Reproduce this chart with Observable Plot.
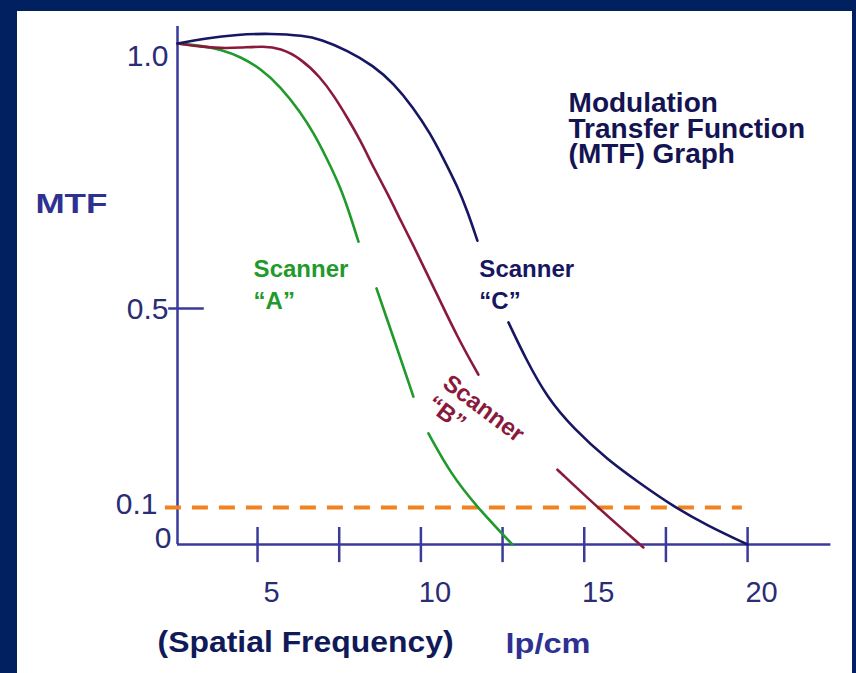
<!DOCTYPE html>
<html><head><meta charset="utf-8">
<script src="https://cdn.jsdelivr.net/npm/d3@7"></script>
<script src="https://cdn.jsdelivr.net/npm/@observablehq/plot@0.6"></script>
<style>
html,body{margin:0;padding:0;background:#002060;}
#wrap{position:relative;width:856px;height:673px;background:#002060;overflow:hidden;}
#panel{position:absolute;left:17px;top:11px;width:835px;height:662px;background:#ffffff;}
#chart{position:absolute;left:0;top:0;}
</style></head><body>
<div id="wrap"><div id="panel"></div><div id="chart"></div></div>
<script>
// Spatial frequency (lp/cm) and MTF values; null marks a break in the drawn line
const freqA = [2.55, 3.25, 3.87, 4.48, 5.09, 5.70, 6.32, 6.71, 7.14, 7.54, 7.82, 8.09, null, 8.64, 9.22, 9.77, null, 10.23, 10.91, 11.73, 12.80];
const mtfA  = [1.0, 0.996, 0.989, 0.975, 0.953, 0.919, 0.870, 0.832, 0.781, 0.728, 0.679, 0.626, null, 0.538, 0.430, 0.323, null, 0.249, 0.168, 0.100, 0.0];
const freqB = [2.55, 3.25, 3.87, 4.48, 5.18, 5.70, 6.32, 6.93, 7.33, 7.75, 8.15, 8.55, 8.98, 9.38, 9.74, 10.39, 11.12, 11.76, null, 14.18, 15.41, 16.81];
const mtfB  = [1.0, 0.994, 0.991, 0.992, 0.995, 0.991, 0.972, 0.936, 0.902, 0.860, 0.817, 0.766, 0.717, 0.666, 0.623, 0.540, 0.442, 0.367, null, 0.176, 0.100, -0.008];
const freqC = [2.55, 3.35, 4.39, 5.40, 6.41, 6.93, 7.75, 8.55, 9.16, 9.77, 10.29, 10.69, 11.12, 11.43, 11.73, null, 12.68, 13.20, 13.88, 14.67, 15.71, 16.72, 17.73, 18.77, 20.00];
const mtfC  = [1.0, 1.009, 1.017, 1.019, 1.015, 1.008, 0.987, 0.958, 0.925, 0.879, 0.830, 0.783, 0.730, 0.683, 0.628, null, 0.472, 0.400, 0.319, 0.259, 0.196, 0.148, 0.102, 0.051, 0.0];

const xTicks = [5, 7.5, 10, 12.5, 15, 17.5, 20];
const xTickLabels = [5, 10, 15, 20];
const yTickValues = [1.0, 0.5, 0.1, 0];
const yTickLabels = ["1.0", "0.5", "0.1", "0"];
const thresholdMTF = 0.1;

const titleText = "Modulation\nTransfer Function\n(MTF) Graph";
const yTitle = "MTF";
const xTitle = "(Spatial Frequency)";
const xUnit = "lp/cm";
const labelA = "Scanner\n\u201CA\u201D";
const labelB1 = "Scanner";
const labelB2 = "\u201CB\u201D";
const labelC = "Scanner\n\u201CC\u201D";

// styles
const FONT = "'Liberation Sans', Arial, Helvetica, sans-serif";
const axisColor = "#3a3a9c";
const numColor = "#2a2c74";
const colA = "#1f9a2b", colB = "#8a1a3c", colC = "#161662";

// The reference MTF axis is drawn non-uniformly (0-0.1 compressed); this warp reproduces it.
const warpY = d3.scaleLinear().domain([0, 0.1, 0.5, 1]).range([0, 37, 236, 501]);
const wy = v => (v == null ? NaN : warpY(v));

const toRows = (xs, ys) => xs.map((x, i) => ({x: x == null ? NaN : x, y: ys[i]}));
const rowsA = toRows(freqA, mtfA), rowsB = toRows(freqB, mtfB), rowsC = toRows(freqC, mtfC);

const yLabelOffsets = [[-9, 22], [-9, 10], [-20, 6], [-6, 3]];

const marks = [
  // axes
  Plot.ruleX([2.55], {y1: wy(0), y2: wy(1.032), stroke: axisColor, strokeWidth: 2.5}),
  Plot.ruleY([wy(0)], {x1: 2.55, x2: 22.55, stroke: axisColor, strokeWidth: 2.5}),
  Plot.ruleX(xTicks, {y1: wy(-0.049), y2: wy(0.046), stroke: axisColor, strokeWidth: 2.5}),
  Plot.ruleY([wy(0.5)], {x1: 2.28, x2: 3.37, stroke: axisColor, strokeWidth: 2.5}),
  // threshold
  Plot.ruleY([wy(thresholdMTF)], {x1: 2.18, x2: 19.84, stroke: "#f0831f", strokeWidth: 4, strokeDasharray: "16,11"}),
  // curves
  Plot.line(rowsA, {x: "x", y: d => wy(d.y), stroke: colA, strokeWidth: 2.6, curve: "basis"}),
  Plot.line(rowsB, {x: "x", y: d => wy(d.y), stroke: colB, strokeWidth: 2.6, curve: "basis"}),
  Plot.line(rowsC, {x: "x", y: d => wy(d.y), stroke: colC, strokeWidth: 2.6, curve: "basis"}),
  // x tick labels
  Plot.text(xTickLabels, {x: d => d, y: wy(0), text: d => String(d), dx: 14, dy: 57, lineAnchor: "bottom",
    fontSize: 29, fill: numColor, fontFamily: FONT}),
  // y tick labels
  ...yTickValues.map((v, i) => Plot.text([v], {x: 2.55, y: d => wy(d), text: () => yTickLabels[i],
    dx: yLabelOffsets[i][0], dy: yLabelOffsets[i][1], textAnchor: "end", lineAnchor: "bottom",
    fontSize: 30, fill: numColor, fontFamily: FONT})),
  // titles
  Plot.text([yTitle], {x: -1.80, y: wy(0.681), text: d => d, textAnchor: "start", lineAnchor: "bottom",
    fontSize: 28, fontWeight: "bold", fill: "#2e3192", fontFamily: FONT}),
  Plot.text([titleText], {x: 14.52, y: wy(0.775), text: d => d, textAnchor: "start", lineAnchor: "bottom",
    lineHeight: 0.9, fontSize: 28, fontWeight: "bold", fill: "#141452", fontFamily: FONT}),
  Plot.text([xTitle], {x: 1.94, y: wy(0), dy: 107, text: d => d, textAnchor: "start", lineAnchor: "bottom",
    fontSize: 29, fontWeight: "bold", fill: "#101a58", fontFamily: FONT}),
  Plot.text([xUnit], {x: 12.59, y: wy(0), dy: 108, text: d => d, textAnchor: "start", lineAnchor: "bottom",
    fontSize: 27, fontWeight: "bold", fill: "#2e3192", fontFamily: FONT}),
  // series labels
  Plot.text([labelA], {x: 4.88, y: wy(0.5), text: d => d, textAnchor: "start", lineAnchor: "bottom",
    lineHeight: 1.3, fontSize: 24, fontWeight: "bold", fill: colA, fontFamily: FONT}),
  Plot.text([labelC], {x: 11.79, y: wy(0.5), text: d => d, textAnchor: "start", lineAnchor: "bottom",
    lineHeight: 1.3, fontSize: 24, fontWeight: "bold", fill: colC, fontFamily: FONT}),
  Plot.text([labelB1], {x: 11.92, y: wy(0.299), text: d => d, rotate: 37, textAnchor: "middle", lineAnchor: "middle",
    fontSize: 24, fontWeight: "bold", fill: colB, fontFamily: FONT}),
  Plot.text([labelB2], {x: 10.78, y: wy(0.289), text: d => d, rotate: 37, textAnchor: "middle", lineAnchor: "middle",
    fontSize: 24, fontWeight: "bold", fill: colB, fontFamily: FONT})
];

const chart = Plot.plot({
  width: 856,
  height: 673,
  x: {domain: [2.55, 22.55], range: [177, 830.4], axis: null},
  y: {domain: [0, 501], range: [544, 43], axis: null},
  style: {background: "transparent", fontFamily: FONT},
  marks
});
document.getElementById("chart").appendChild(chart);

// stretch wide-set labels to match the reference lettering
const stretch = {"MTF": 72, "lp/cm": 85, "(Spatial Frequency)": 296};
d3.select(chart).selectAll("text").each(function() {
  const t = this.textContent;
  if (stretch[t] && this.querySelectorAll("tspan").length === 0) {
    this.setAttribute("textLength", stretch[t]);
    this.setAttribute("lengthAdjust", "spacingAndGlyphs");
  }
});
</script>
</body></html>
